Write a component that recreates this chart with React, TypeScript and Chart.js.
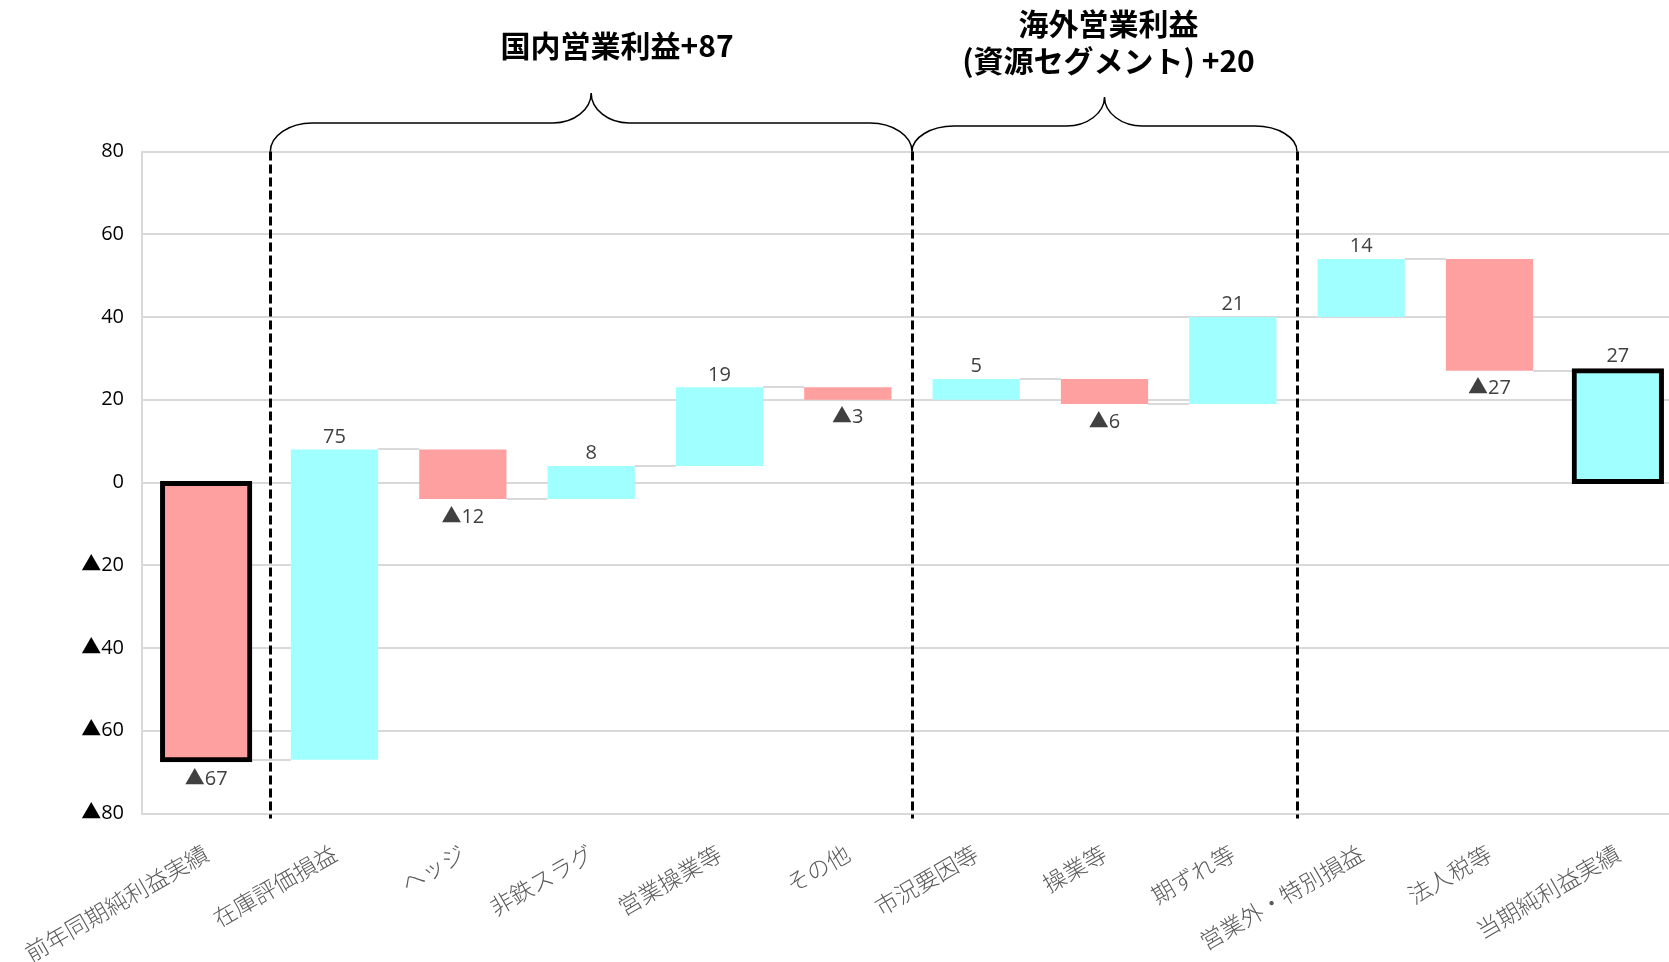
import React, { useEffect, useRef } from "react";
import { Chart, registerables } from "chart.js";

Chart.register(...registerables);

// ---- data ----
const categories = [
  "前年同期純利益実績",
  "在庫評価損益",
  "ヘッジ",
  "非鉄スラグ",
  "営業操業等",
  "その他",
  "市況要因等",
  "操業等",
  "期ずれ等",
  "営業外・特別損益",
  "法人税等",
  "当期純利益実績",
];
const changes = [-67, 75, -12, 8, 19, -3, 5, -6, 21, 14, -27, 27];
const isTotal = [true, false, false, false, false, false, false, false, false, false, false, true];
const yMin = -80;
const yMax = 80;
const yStep = 20;
const groupTitles = [["国内営業利益+87"], ["海外営業利益", "(資源セグメント) +20"]];
const groupRanges = [
  [1, 5],
  [6, 8],
];
const dividersAfter = [0, 5, 8];

// ---- derived floating ranges ----
const ranges: [number, number][] = [];
{
  let run = 0;
  changes.forEach((c, i) => {
    if (isTotal[i]) {
      ranges.push([0, c]);
      run = c;
    } else {
      ranges.push([run, run + c]);
      run += c;
    }
  });
}

const POS = "#A0FFFF";
const NEG = "#FFA0A0";
const fmt = (v: number) => (v < 0 ? "▲" + Math.abs(v) : String(v));

const overlay = {
  id: "overlay",
  beforeDatasetsDraw(chart: any) {
    const ctx = chart.ctx;
    const meta = chart.getDatasetMeta(0);
    const y = chart.scales.y;
    ctx.save();
    ctx.strokeStyle = "#d9d9d9";
    ctx.lineWidth = 2;
    for (let i = 0; i < ranges.length - 1; i++) {
      const a = meta.data[i] as any;
      const b = meta.data[i + 1] as any;
      const level = ranges[i][1];
      const py = Math.round(y.getPixelForValue(level));
      ctx.beginPath();
      ctx.moveTo(a.x + a.width / 2, py);
      ctx.lineTo(b.x - b.width / 2, py);
      ctx.stroke();
    }
    ctx.restore();
  },
  afterDatasetsDraw(chart: any) {
    const ctx = chart.ctx;
    const meta = chart.getDatasetMeta(0);
    const y = chart.scales.y;
    ctx.save();
    ctx.fillStyle = "#404040";
    ctx.font = "20px 'Open Sans', 'Noto Sans CJK JP'";
    ctx.textAlign = "center";
    ctx.textBaseline = "middle";
    changes.forEach((v, i) => {
      const el = meta.data[i] as any;
      const hi = Math.max(ranges[i][0], ranges[i][1]);
      const lo = Math.min(ranges[i][0], ranges[i][1]);
      let py;
      if (v >= 0) py = y.getPixelForValue(hi) - 12.5 - (isTotal[i] ? 2 : 0);
      else py = y.getPixelForValue(lo) + 18 + (isTotal[i] ? 2 : 0);
      ctx.fillText(fmt(v), el.x, py);
    });
    ctx.restore();
  },
  afterDraw(chart: any) {
    const ctx = chart.ctx;
    const xs = chart.scales.x;
    const area = chart.chartArea;
    const boundary = (k: number) => (xs.getPixelForValue(k) + xs.getPixelForValue(k + 1)) / 2;
    ctx.save();
    // dashed dividers
    ctx.strokeStyle = "#000";
    ctx.lineWidth = 3;
    ctx.setLineDash([9, 4]);
    dividersAfter.forEach((k) => {
      const px = Math.round(boundary(k)) + 0.5;
      ctx.beginPath();
      ctx.moveTo(px, area.top);
      ctx.lineTo(px, area.bottom + 5);
      ctx.stroke();
    });
    ctx.setLineDash([]);
    // braces
    const braceH = [123, 126];
    const braceTip = [93, 97];
    const titleDx = [26, 4];
    const titleY = [[46], [24, 61]];
    groupRanges.forEach(([s, e], g) => {
      const xL = boundary(s - 1);
      const xR = boundary(e);
      const xc = (xL + xR) / 2;
      const yb = area.top;
      const yh = braceH[g];
      const yt = braceTip[g];
      const rx = 42;
      const ry = yb - yh;
      const tx = 38;
      const ty = yh - yt;
      ctx.strokeStyle = "#000";
      ctx.lineWidth = 1.5;
      ctx.beginPath();
      ctx.moveTo(xL, yb);
      ctx.bezierCurveTo(xL, yb - ry * 0.55, xL + rx * 0.45, yh, xL + rx, yh);
      ctx.lineTo(xc - tx, yh);
      ctx.bezierCurveTo(xc - tx * 0.45, yh, xc, yh - ty * 0.45, xc, yt);
      ctx.bezierCurveTo(xc, yh - ty * 0.45, xc + tx * 0.45, yh, xc + tx, yh);
      ctx.lineTo(xR - rx, yh);
      ctx.bezierCurveTo(xR - rx * 0.45, yh, xR, yb - ry * 0.55, xR, yb);
      ctx.stroke();
      // titles
      ctx.fillStyle = "#000";
      ctx.font = "bold 30px 'Noto Sans CJK JP'";
      ctx.textAlign = "center";
      ctx.textBaseline = "middle";
      groupTitles[g].forEach((t, li) => {
        ctx.fillText(t, xc + titleDx[g], titleY[g][li]);
      });
    });
    ctx.restore();
  },
};

export default function App() {
  const ref = useRef<HTMLCanvasElement | null>(null);
  useEffect(() => {
    let chart: Chart | null = null;
    let cancelled = false;
    const make = () => {
      if (cancelled || !ref.current) return;
      chart = new Chart(ref.current, {
        type: "bar",
        data: {
          labels: categories,
          datasets: [
            {
              data: ranges as any,
              backgroundColor: changes.map((v) => (v < 0 ? NEG : POS)),
              borderColor: "#000",
              borderWidth: isTotal.map((t) => (t ? 5 : 0)),
              borderSkipped: false,
              inflateAmount: ((c: any) => (isTotal[c.dataIndex] ? 2.5 : 0)) as any,
              barPercentage: 0.68,
              categoryPercentage: 1,
            },
          ],
        },
        options: {
          responsive: false,
          animation: false,
          devicePixelRatio: 1,
          layout: { padding: { left: 0, top: 151.5, right: 18, bottom: 0 } },
          plugins: { legend: { display: false }, tooltip: { enabled: false }, title: { display: false } },
          scales: {
            x: {
              grid: { display: false, drawTicks: false },
              border: { display: false },
              ticks: {
                autoSkip: false,
                maxRotation: 30,
                minRotation: 30,
                padding: 26,
                color: "#595959",
                font: { family: "'Noto Sans CJK JP'", size: 23, weight: "300" as any },
              },
              afterFit: (s: any) => {
                s.height = 148.5;
                s.paddingLeft = 0;
                s.paddingRight = 0;
              },
            },
            y: {
              min: yMin,
              max: yMax,
              grid: { color: "#d9d9d9", lineWidth: 2, drawTicks: false },
              border: { display: true, color: "#d9d9d9", width: 2 },
              ticks: {
                stepSize: yStep,
                padding: 18,
                color: "#000",
                font: { family: "'Open Sans', 'Noto Sans CJK JP'", size: 20 },
                callback: (v: any) => fmt(Number(v)),
              },
              afterFit: (s: any) => {
                s.width = 142;
              },
            },
          },
        },
        plugins: [overlay],
      });
    };
    const fonts = [
      "20px 'Noto Sans CJK JP'",
      "bold 30px 'Noto Sans CJK JP'",
      "20px 'Open Sans'",
    ];
    Promise.all(fonts.map((f) => (document as any).fonts.load(f).catch(() => null)))
      .then(make, make);
    return () => {
      cancelled = true;
      if (chart) chart.destroy();
    };
  }, []);
  return (
    <div
      style={{
        position: "fixed",
        left: 0,
        top: 0,
        width: "100vw",
        height: "100vh",
        overflow: "hidden",
        background: "#fff",
      }}
    >
      <canvas ref={ref} width={1700} height={962} style={{ display: "block", width: 1700, height: 962 }} />
    </div>
  );
}
